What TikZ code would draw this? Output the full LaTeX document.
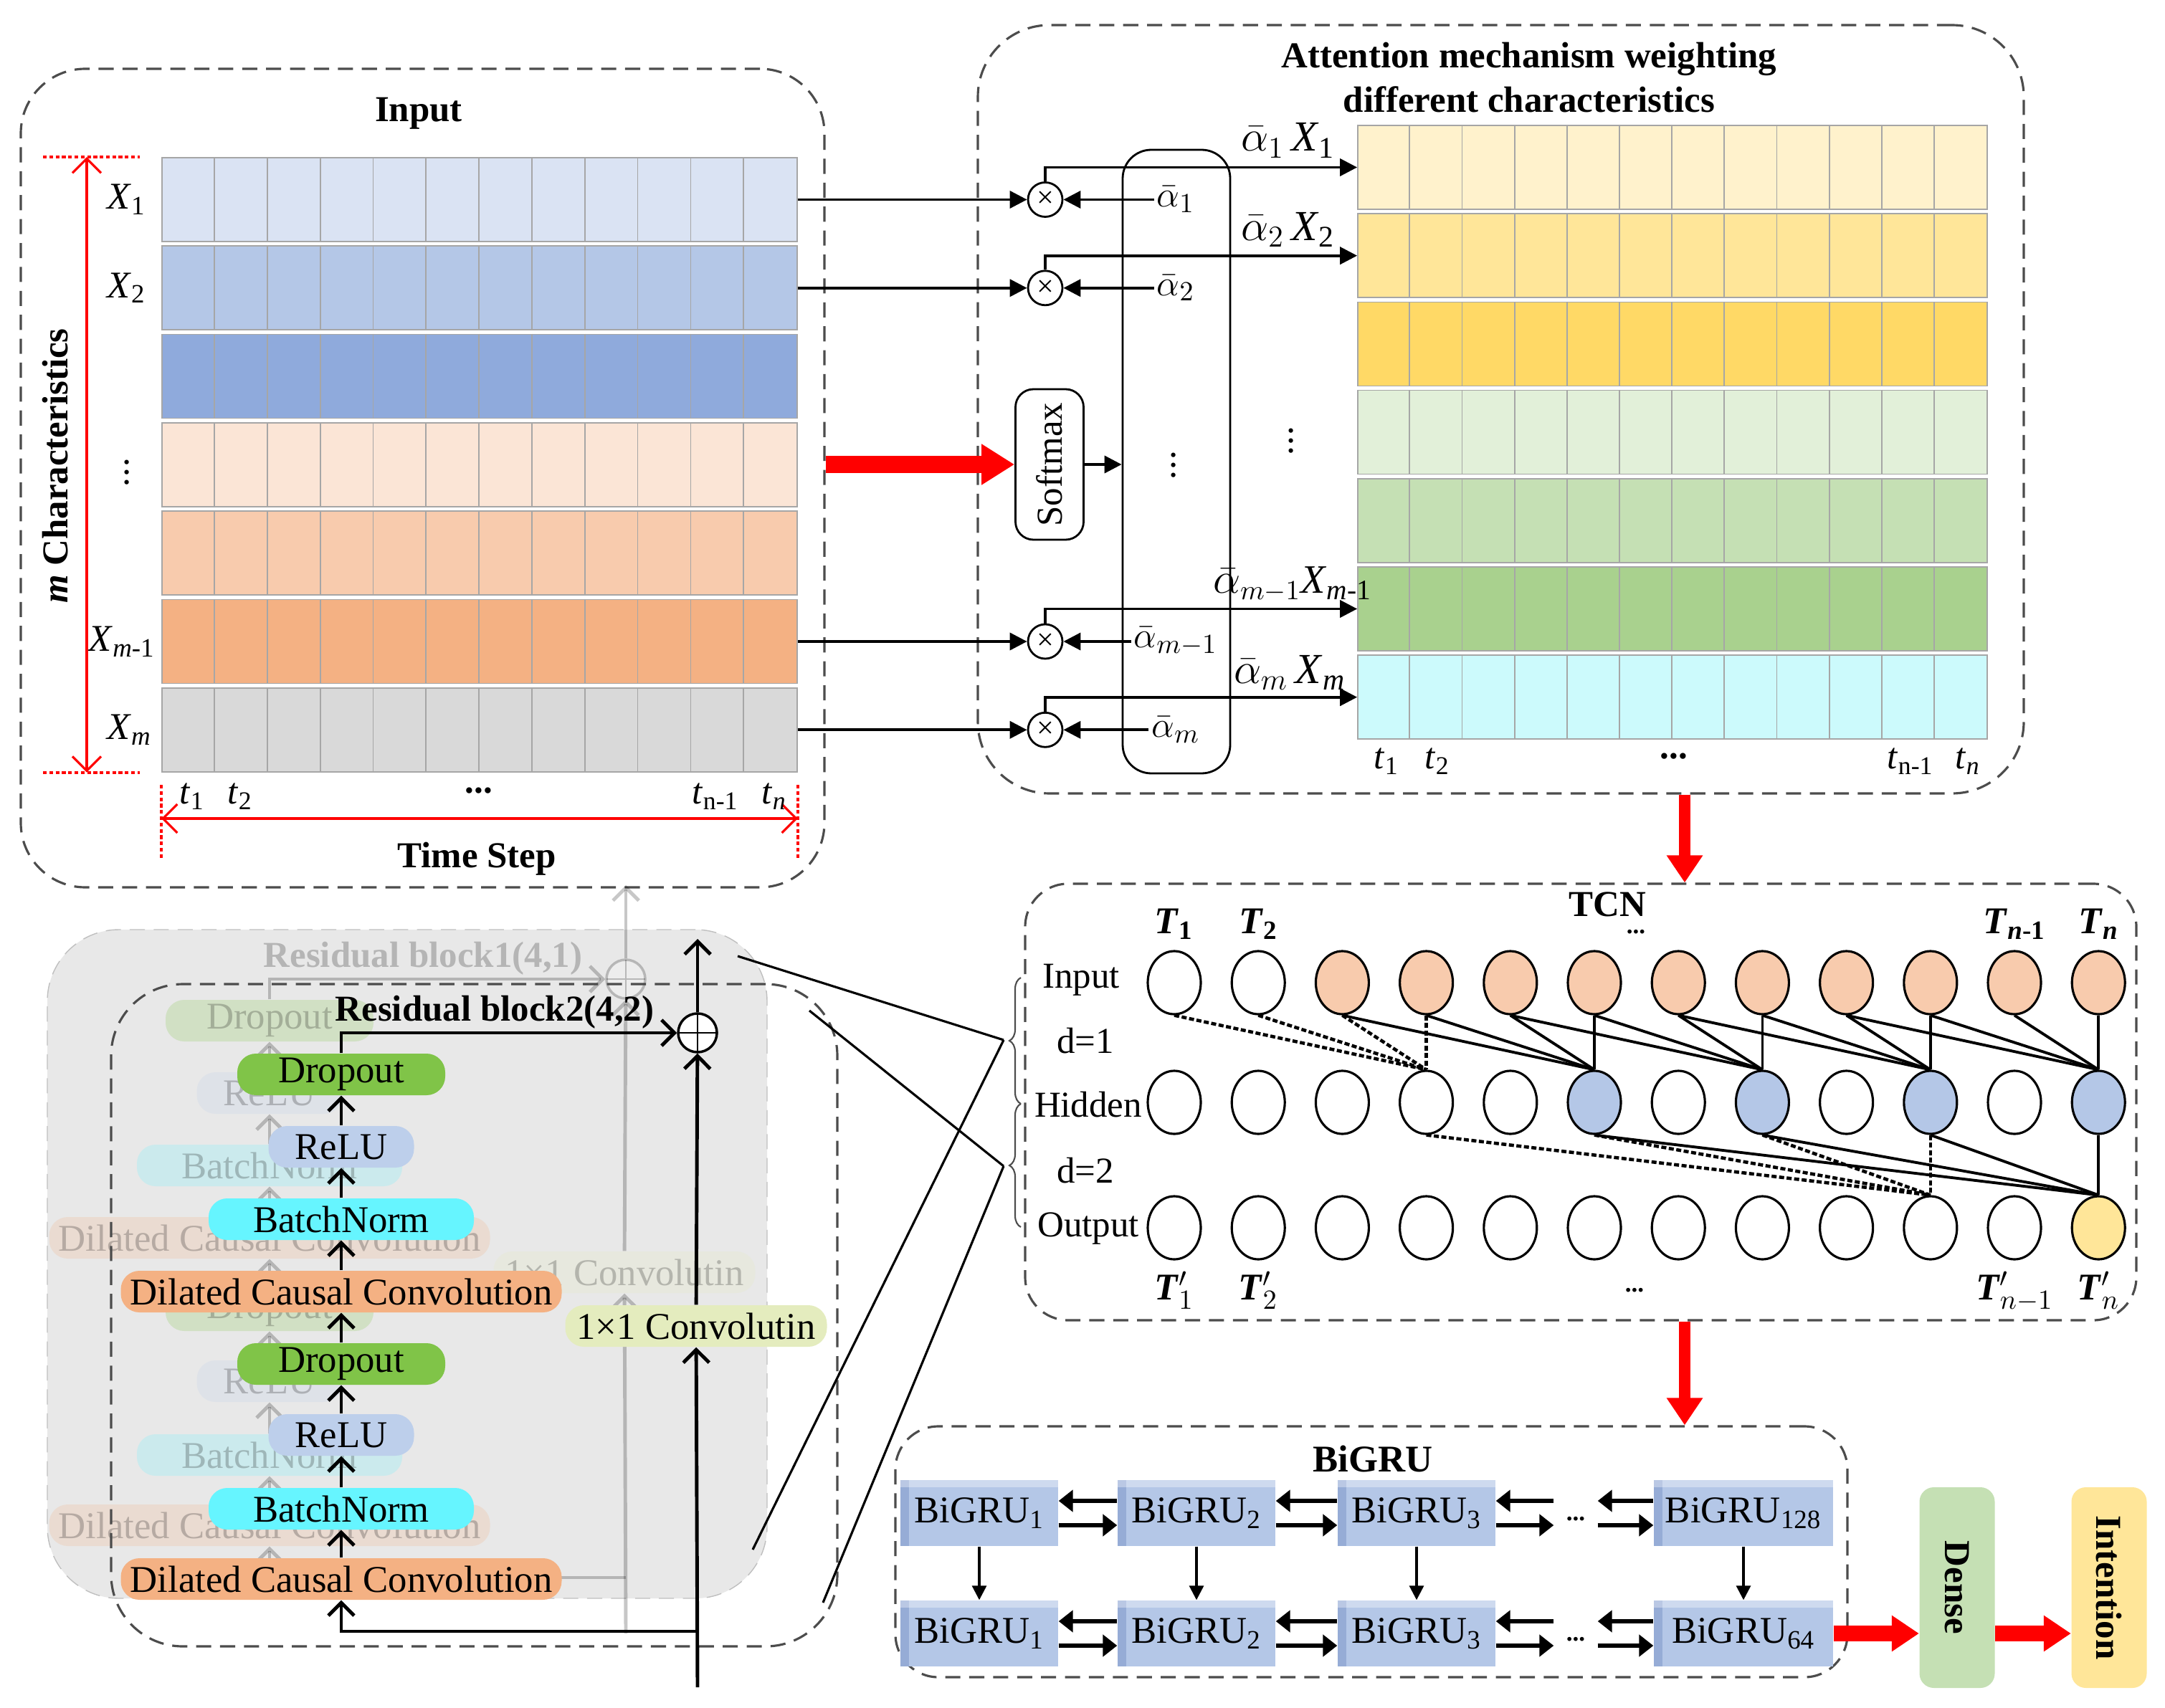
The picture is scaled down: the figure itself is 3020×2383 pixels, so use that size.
\documentclass[tikz,border=0pt]{standalone}
\usepackage{fontspec}
\setmainfont{Liberation Serif}
\usetikzlibrary{positioning,arrows.meta,shapes.geometric,decorations.pathreplacing,calc}

\definecolor{inA}{RGB}{218,227,243}
\definecolor{inB}{RGB}{180,199,231}
\definecolor{inC}{RGB}{143,170,220}
\definecolor{inD}{RGB}{251,229,214}
\definecolor{inE}{RGB}{248,203,173}
\definecolor{inF}{RGB}{244,177,131}
\definecolor{inG}{RGB}{217,217,217}
\definecolor{atA}{RGB}{255,242,204}
\definecolor{atB}{RGB}{255,230,153}
\definecolor{atC}{RGB}{255,217,102}
\definecolor{atD}{RGB}{226,240,217}
\definecolor{atE}{RGB}{197,224,180}
\definecolor{atF}{RGB}{169,209,142}
\definecolor{atG}{RGB}{204,250,252}
\definecolor{tin}{RGB}{248,203,173}
\definecolor{thid}{RGB}{180,199,231}
\definecolor{tout}{RGB}{255,230,153}
\definecolor{dccc}{RGB}{244,177,131}
\definecolor{bnc}{RGB}{102,245,255}
\definecolor{reluc}{RGB}{189,207,235}
\definecolor{dropc}{RGB}{128,196,72}
\definecolor{convc}{RGB}{228,236,190}
\definecolor{gruc}{RGB}{180,199,231}
\definecolor{gruside}{RGB}{150,172,214}
\definecolor{densec}{RGB}{197,224,180}
\definecolor{intc}{RGB}{255,230,153}
\definecolor{blkgray}{RGB}{232,232,232}

\newcommand\fsz[1]{\fontsize{#1}{#1}\selectfont}

% one residual block: #1 name prefix, #2 title
\newcommand\resblock[2]{%
  \node[dcc] (#1c1) at (476,2203) {Dilated Causal Convolution};
  \node[bn] (#1b1) at (476,2105) {BatchNorm};
  \node[relu] (#1r1) at (476,2002) {ReLU};
  \node[drop] (#1d1) at (476,1903) {Dropout};
  \node[dcc] (#1c2) at (476,1802) {Dilated Causal Convolution};
  \node[bn] (#1b2) at (476,1701) {BatchNorm};
  \node[relu] (#1r2) at (476,1600) {ReLU};
  \node[drop] (#1d2) at (476,1499) {Dropout};
  \node[conv] (#1k) at (971,1850) {1\texttimes1 Convolutin};
  \node[plus] (#1p) at (973,1441) {};
  \coordinate (#1in) at (973,2354);
  \coordinate (#1br) at (973,2276);
  \coordinate (#1out) at (973,1310);
  \foreach \p/\q in {c1/b1,b1/r1,r1/d1,d1/c2,c2/b2,b2/r2,r2/d2}
    \draw[res] (#1\p) -- (#1\q);
  \draw[res] (#1in) -- (#1k);
  \draw[res] (#1k) -- (#1p);
  \draw[res] (#1p) -- (#1out);
  \draw[res] (#1br) -| (#1c1);
  \draw[res] (#1d2) |- (#1p);
  \node[font=\bfseries\fsz{14.5}] (#1lab) at (690,1412) {#2};
}

\begin{document}
\begin{tikzpicture}[x=0.1mm, y=-0.1mm, font=\fsz{14.5}]
\tikzset{
  panel/.style={draw=black!70, line width=0.9pt, dash pattern=on 6pt off 3.5pt, rounded corners=9mm, inner sep=0pt},
  row/.style={draw=black!35, line width=0.5pt, minimum height=11.7mm, inner sep=0pt},
  cellline/.style={draw=black!35, line width=0.5pt},
  xlab/.style={anchor=east, inner sep=0pt, font=\fsz{15}},
  wlab/.style={inner sep=0pt, font=\fsz{17}},
  mult/.style={circle, draw, line width=0.8pt, minimum size=4.8mm, inner sep=0pt, font=\fsz{12}},
  att/.style={line width=1.1pt, -{Triangle[length=2.4mm,width=2.4mm]}},
  redbig/.style={red, line width=7pt, -{Triangle[length=4.6mm,width=5.4mm]}},
  redmid/.style={red, line width=5pt, -{Triangle[length=3.8mm,width=4.8mm]}},
  reddim/.style={red, line width=0.9pt, {Straight Barb[length=2mm,width=4mm]}-{Straight Barb[length=2mm,width=4mm]}},
  reddot/.style={red, line width=1.2pt, dash pattern=on 1.5pt off 1pt},
  tnode/.style={ellipse, draw, line width=0.9pt, minimum width=7.4mm, minimum height=8.8mm, inner sep=0pt},
  tedge/.style={line width=1.1pt},
  tdash/.style={line width=1.3pt, dash pattern=on 2pt off 1pt},
  blk/.style={rounded corners=2.6mm, minimum height=5.8mm, inner sep=0pt, font=\fsz{15}},
  dcc/.style={blk, fill=dccc, minimum width=61.5mm},
  bn/.style={blk, fill=bnc, minimum width=37mm},
  relu/.style={blk, fill=reluc, minimum width=20.3mm},
  drop/.style={blk, fill=dropc, minimum width=29mm},
  conv/.style={blk, fill=convc, minimum width=36.5mm},
  plus/.style={circle, draw, fill=white, line width=1pt, minimum size=5.4mm, inner sep=0pt,
    path picture={\draw[line width=0.8pt] (path picture bounding box.north) -- (path picture bounding box.south)
      (path picture bounding box.west) -- (path picture bounding box.east);}},
  res/.style={line width=1.4pt, -{Straight Barb[length=1.8mm,width=3.6mm]}},
  zoomline/.style={line width=0.9pt},
  gru/.style={fill=gruc, minimum height=9.2mm, inner sep=0pt, font=\fsz{15},
    path picture={\fill[gruside] (path picture bounding box.south west) rectangle ([xshift=1.2mm]path picture bounding box.north west);
      \fill[white, opacity=0.35] ([yshift=-1mm]path picture bounding box.north west) rectangle (path picture bounding box.north east);}},
  garrow/.style={line width=1.5pt, -{Triangle[length=2mm,width=3mm]}},
  vgarrow/.style={line width=0.9pt, -{Triangle[length=2mm,width=2mm]}},
  tall/.style={rounded corners=2mm, minimum width=10.5mm, minimum height=28mm, inner sep=0pt, font=\bfseries\fsz{14.5}}
}
\useasboundingbox (0,0) rectangle (3020,2383);

% input
\node[panel, minimum width=112.1mm, minimum height=114.2mm] (inpanel) at (589.5,667) {};
\node[font=\bfseries\fsz{14.5}] (intitle) at (584,158) {Input};
\foreach \col [count=\i] in {inA,inB,inC,inD,inE,inF,inG} {
  \node[row, fill=\col, minimum width=88.6mm] (in\i) at (669,{278.5+123.3*(\i-1)}) {};
  \foreach \k in {1,...,11}
    \draw[cellline] ($(in\i.north west)+({73.83*\k},0)$) -- ++(0,117);
}
\node[xlab] (x1) at (in1.west) [xshift=-2.1mm] {\textit{X}\textsubscript{1}};
\node[xlab] (x2) at (in2.west) [xshift=-2.1mm] {\textit{X}\textsubscript{2}};
\node[xlab] (xd) at (in4.west) [xshift=-4.1mm] {$\vdots$};
\node[xlab] (x6) at (in6.west) [xshift=-0.8mm] {\textit{X}\textsubscript{\textit{m}-1}};
\node[xlab] (x7) at (in7.west) [xshift=-1.3mm] {\textit{X}\textsubscript{\textit{m}}};
\coordinate (dimx) at (121,0);
\coordinate (dl) at (60,0);
\coordinate (dr) at (195,0);
\draw[reddim] (in1.north -| dimx) -- (in7.south -| dimx);
\draw[reddot] (in1.north -| dl) -- (in1.north -| dr);
\draw[reddot] (in7.south -| dl) -- (in7.south -| dr);
\node[rotate=90, font=\bfseries\fsz{14.5}] (mch) at (77,650) {\textit{m} Characteristics};
\coordinate (tsa) at (0,1095);
\coordinate (tsb) at (0,1200);
\coordinate (tsy) at (0,1142);
\draw[reddim] (in7.south west |- tsy) -- (in7.south east |- tsy);
\draw[reddot] (in7.south west |- tsa) -- (in7.south west |- tsb);
\draw[reddot] (in7.south east |- tsa) -- (in7.south east |- tsb);
\foreach \x/\t in {268/1,335/2,998/n-1} \node (ti\x) at (\x,1111) {\textit{t}\textsubscript{\t}};
\node (tin) at (1080,1111) {\textit{t}\textsubscript{\textit{n}}};
\node (tdots) at (668,1103) {\textbf{...}};
\node[font=\bfseries\fsz{14.5}] (tstep) at (665,1198) {Time Step};

% attention
\node[panel, rounded corners=10mm, minimum width=145.9mm, minimum height=107.2mm] (atpanel) at (2093.5,571) {};
\node[font=\bfseries\fontsize{14.5}{17.4}\selectfont, align=center, inner sep=0pt] (attitle) at (2133,108) {Attention mechanism weighting\\different characteristics};
\foreach \col [count=\i] in {atA,atB,atC,atD,atE,atF,atG} {
  \node[row, fill=\col, minimum width=87.8mm] (at\i) at (2333,{233.5+123.2*(\i-1)}) {};
  \foreach \k in {1,...,11}
    \draw[cellline] ($(at\i.north west)+({73.17*\k},0)$) -- ++(0,117);
}
\foreach \x/\t in {1934/1,2005/2,2665/n-1} \node (ta\x) at (\x,1062) {\textit{t}\textsubscript{\t}};
\node (tan) at (2745,1062) {\textit{t}\textsubscript{\textit{n}}};
\node (tadots) at (2335,1055) {\textbf{...}};
\node[draw, line width=0.8pt, rounded corners=4mm, minimum width=15mm, minimum height=87mm] (alph) at (1641,644) {};
\node[draw, line width=0.8pt, rounded corners=2.5mm, minimum width=9.5mm, minimum height=21mm, inner sep=0pt] (soft) at (1464,648) {\rotatebox{90}{Softmax}};
\draw[att] (soft.east) -- (soft.east -| alph.west);
\draw[redbig] (inpanel.east |- soft.west) -- (soft.west);
\node[font=\fsz{15}] (adots) at (1637,639) {$\vdots$};
\node[font=\fsz{15}] (wdots) at (1801,605) {$\vdots$};
\coordinate (mx) at (1458,0);
\coordinate (ax) at (1640,0);
\foreach \r/\s in {1/1,2/2,6/{m-1},7/m} {
  \node[mult] (m\r) at (in\r.east -| mx) {\texttimes};
  \node[font=\fsz{15}, inner sep=1pt] (a\r) at (m\r -| ax) {$\bar{\alpha}_{\s}$};
  \draw[att] (in\r.east) -- (m\r.west);
  \draw[att] (a\r.west |- m\r) -- (m\r.east);
  \draw[att] (m\r.north) |- (at\r.west);
}
\node[wlab] (w1) at (1797,196) {$\bar{\alpha}_1$\,\textit{X}\textsubscript{1}};
\node[wlab] (w2) at (1797,320) {$\bar{\alpha}_2$\,\textit{X}\textsubscript{2}};
\node[wlab, font=\fsz{16}] (w6) at (1803,815) {$\bar{\alpha}_{m-1}$\textit{X}\textsubscript{\textit{m}-1}};
\node[wlab] (w7) at (1799,938) {$\bar{\alpha}_m$\,\textit{X}\textsubscript{\textit{m}}};
\coordinate (flow) at (2350,0);

% TCN
\node[panel, rounded corners=6mm, minimum width=155mm, minimum height=60.9mm] (tcnpanel) at (2205,1537.5) {};
\draw[redmid, line width=4.5pt] (atpanel.south -| flow) -- (tcnpanel.north -| flow);
\node[font=\bfseries\fsz{14.5}] (tcntitle) at (2242,1262) {TCN};
\foreach \i/\col in {1/white,2/white,3/tin,4/tin,5/tin,6/tin,7/tin,8/tin,9/tin,10/tin,11/tin,12/tin}
  \node[tnode, fill=\col] (i\i) at ({1638+117.2*(\i-1)},1371) {};
\foreach \i/\col in {1/white,2/white,3/white,4/white,5/white,6/thid,7/white,8/thid,9/white,10/thid,11/white,12/thid}
  \node[tnode, fill=\col] (h\i) at ({1638+117.2*(\i-1)},1538) {};
\foreach \i/\col in {1/white,2/white,3/white,4/white,5/white,6/white,7/white,8/white,9/white,10/white,11/white,12/tout}
  \node[tnode, fill=\col] (o\i) at ({1638+117.2*(\i-1)},1713) {};
\foreach \j/\st in {4/tdash,6/tedge,8/tedge,10/tedge,12/tedge}
  \foreach \k in {0,...,3} {
    \pgfmathtruncatemacro\s{\j-\k}
    \draw[\st] (i\s.south) -- (h\j.north);
  }
\foreach \j/\st in {10/tdash,12/tedge}
  \foreach \k in {0,2,4,6} {
    \pgfmathtruncatemacro\s{\j-\k}
    \draw[\st] (h\s.south) -- (o\j.north);
  }
\foreach \i/\t in {1/1,2/2,11/{\textit{n}-1},12/{\textit{n}}}
  \node[above=0.3mm of i\i, font=\bfseries\fsz{15}] (T\i) {\textit{T}\textsubscript{\t}};
\foreach \i/\t in {1/1,2/2,11/{n-1},12/{n}}
  \node[below=0.3mm of o\i, font=\bfseries\fsz{15}] (U\i) {\textit{T}${}'_{\t}$};
\node[font=\bfseries] (tdt) at (2282,1300) {...};
\node[font=\bfseries] (udt) at (2280,1800) {...};
\node (lin) at (1508,1367) {Input};
\node (ld1) at (1514,1452) {d=1};
\node (lhid) at (1518,1541) {Hidden};
\node (ld2) at (1514,1633) {d=2};
\node (lout) at (1518,1714) {Output};
\draw[decorate, decoration={brace, amplitude=1.6mm}, line width=0.6pt, black!70] (1424,1540) -- (1424,1364);
\draw[decorate, decoration={brace, amplitude=1.6mm}, line width=0.6pt, black!70] (1424,1712) -- (1424,1540);
\coordinate (bt1) at (1400,1451);
\coordinate (bt2) at (1400,1627);

% residual blocks
\node[fill=blkgray, draw=black!25, dash pattern=on 6pt off 3.5pt, rounded corners=10mm, minimum width=100.4mm, minimum height=93.3mm] (blk1) at (568,1763.5) {};
\begin{scope}[shift={(-100,-75)}, opacity=0.22]
  \resblock{ra}{Residual block1(4,1)}
\end{scope}
\node[panel, rounded corners=10mm, minimum width=101.3mm, minimum height=92.4mm] (blk2) at (661.5,1835) {};
\resblock{rb}{Residual block2(4,2)}
\coordinate (c1a) at (1029,1334);
\coordinate (c1b) at (1050,2162);
\coordinate (c2a) at (1129,1410);
\coordinate (c2b) at (1148,2236);
\draw[zoomline] (c1a) -- (bt1);
\draw[zoomline] (c1b) -- (bt1);
\draw[zoomline] (c2a) -- (bt2);
\draw[zoomline] (c2b) -- (bt2);

% BiGRU
\node[panel, rounded corners=6mm, minimum width=132.8mm, minimum height=35mm] (grupanel) at (1913,2165) {};
\draw[redmid, line width=4.5pt] (tcnpanel.south -| flow) -- (grupanel.north -| flow);
\node[font=\bfseries\fsz{15}] (grutitle) at (1915,2035) {BiGRU};
\foreach \k/\x/\t/\w in {1/1366/1/22,2/1669/2/22,3/1976/3/22,4/2432/128/25}
  \node[gru, minimum width=\w mm] (g1\k) at (\x,2111) {BiGRU\textsubscript{\t}};
\foreach \k/\x/\t/\w in {1/1366/1/22,2/1669/2/22,3/1976/3/22,4/2432/64/25}
  \node[gru, minimum width=\w mm] (g2\k) at (\x,2279) {BiGRU\textsubscript{\t}};
\foreach \r/\y in {1/2119,2/2287} {
  \foreach \p/\q in {1/2,2/3} {
    \draw[garrow] ([yshift=1.7mm]g\r\q.west) -- ([yshift=1.7mm]g\r\p.east);
    \draw[garrow] ([yshift=-1.7mm]g\r\p.east) -- ([yshift=-1.7mm]g\r\q.west);
  }
  \node[minimum width=6mm, inner sep=0pt, font=\bfseries] (dt\r) at (2198,\y) {...};
  \draw[garrow] ([yshift=1.7mm]g\r4.west) -- ([yshift=1.7mm]g\r4.west -| dt\r.east);
  \draw[garrow] ([yshift=1.7mm]dt\r.west |- g\r3.east) -- ([yshift=1.7mm]g\r3.east);
  \draw[garrow] ([yshift=-1.7mm]g\r3.east) -- ([yshift=-1.7mm]g\r3.east -| dt\r.west);
  \draw[garrow] ([yshift=-1.7mm]dt\r.east |- g\r4.west) -- ([yshift=-1.7mm]g\r4.west);
}
\foreach \k in {1,...,4}
  \draw[vgarrow] (g1\k.south) -- (g2\k.north);
\node[tall, fill=densec] (dense) at (2730,2215) {\rotatebox{-90}{Dense}};
\node[tall, fill=intc] (intent) at (2942,2215) {\rotatebox{-90}{Intention}};
\draw[redmid, line width=6pt] (g24.east) -- (g24.east -| dense.west);
\draw[redmid, line width=6pt] (dense.east |- g24.east) -- (g24.east -| intent.west);
\end{tikzpicture}
\end{document}
